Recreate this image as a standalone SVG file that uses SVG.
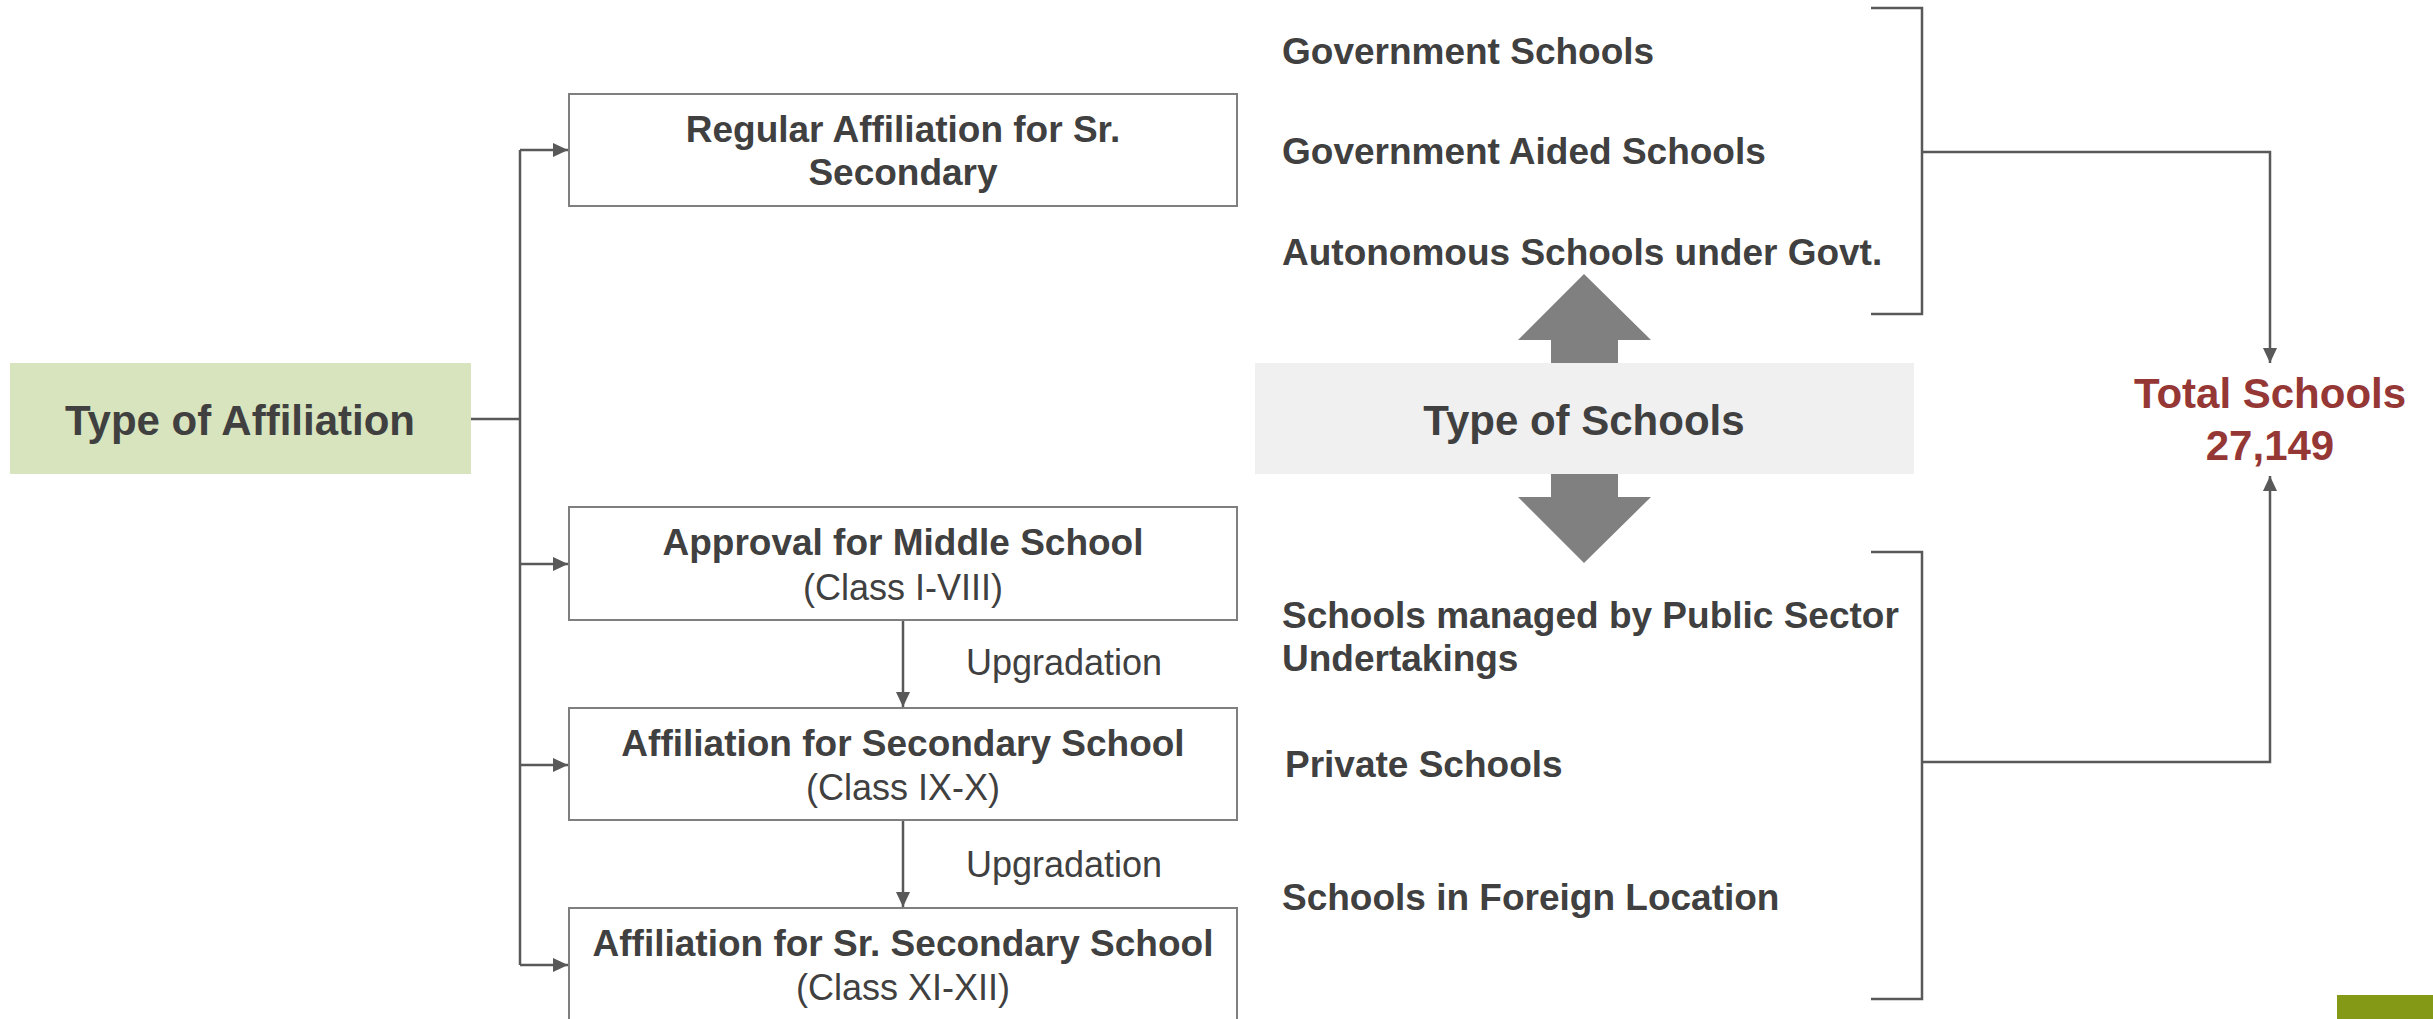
<svg xmlns="http://www.w3.org/2000/svg" width="2433" height="1019" viewBox="0 0 2433 1019">
<style>
.t{font-family:"Liberation Sans",Arial,sans-serif;fill:#404040}
.b{font-weight:bold}
.box{fill:#ffffff;stroke:#7f7f7f;stroke-width:2}
.ln{fill:none;stroke:#595959;stroke-width:2.5}
</style>
<defs>
<marker id="ah" markerUnits="userSpaceOnUse" markerWidth="16" markerHeight="16" viewBox="0 0 16 16" refX="15" refY="8" orient="auto">
<path d="M0,1 L15,8 L0,15 Z" fill="#595959"/>
</marker>
</defs>
<g id="connectors">
<path class="ln" d="M471,419 H520"/>
<path class="ln" d="M520,150 V965"/>
<path class="ln" d="M520,150 H568" marker-end="url(#ah)"/>
<path class="ln" d="M520,564 H568" marker-end="url(#ah)"/>
<path class="ln" d="M520,765 H568" marker-end="url(#ah)"/>
<path class="ln" d="M520,965 H568" marker-end="url(#ah)"/>
<path class="ln" d="M903,620 V707" marker-end="url(#ah)"/>
<path class="ln" d="M903,820 V907" marker-end="url(#ah)"/>
<path class="ln" d="M1871,8 H1922 V314 H1871"/>
<path class="ln" d="M1871,552 H1922 V999 H1871"/>
<path class="ln" d="M1922,152 H2270 V363" marker-end="url(#ah)"/>
<path class="ln" d="M1922,762 H2270 V476" marker-end="url(#ah)"/>
</g>
<g id="type-affiliation">
<rect x="10" y="363" width="461" height="111" fill="#d7e4bd"/>
<text class="t b" x="240" y="435" font-size="42" text-anchor="middle">Type of Affiliation</text>
</g>
<g id="regular-affiliation">
<rect class="box" x="569" y="94" width="668" height="112"/>
<text class="t b" x="903" y="142" font-size="37" text-anchor="middle">Regular Affiliation for Sr.</text>
<text class="t b" x="903" y="185" font-size="37" text-anchor="middle">Secondary</text>
</g>
<g id="middle-school">
<rect class="box" x="569" y="507" width="668" height="113"/>
<text class="t b" x="903" y="555" font-size="37" text-anchor="middle">Approval for Middle School</text>
<text class="t" x="903" y="600" font-size="36" text-anchor="middle">(Class I-VIII)</text>
</g>
<g id="secondary-school">
<rect class="box" x="569" y="708" width="668" height="112"/>
<text class="t b" x="903" y="756" font-size="37" text-anchor="middle">Affiliation for Secondary School</text>
<text class="t" x="903" y="800" font-size="36" text-anchor="middle">(Class IX-X)</text>
</g>
<g id="sr-secondary-school">
<rect class="box" x="569" y="908" width="668" height="130"/>
<text class="t b" x="903" y="956" font-size="37" text-anchor="middle">Affiliation for Sr. Secondary School</text>
<text class="t" x="903" y="1000" font-size="36" text-anchor="middle">(Class XI-XII)</text>
</g>
<g id="upgradation-labels">
<text class="t" x="966" y="675" font-size="36">Upgradation</text>
<text class="t" x="966" y="877" font-size="36">Upgradation</text>
</g>
<g id="type-schools">
<rect x="1255" y="363" width="659" height="111" fill="#f0f0f0"/>
<text class="t b" x="1584" y="435" font-size="42" text-anchor="middle">Type of Schools</text>
<polygon points="1584,274 1651,340 1618,340 1618,363 1551,363 1551,340 1518,340" fill="#808080"/>
<polygon points="1551,474 1618,474 1618,497 1651,497 1584,563 1518,497 1551,497" fill="#808080"/>
</g>
<g id="govt-schools">
<text class="t b" x="1282" y="64" font-size="37">Government Schools</text>
<text class="t b" x="1282" y="164" font-size="37">Government Aided Schools</text>
<text class="t b" x="1282" y="265" font-size="37">Autonomous Schools under Govt.</text>
</g>
<g id="other-schools">
<text class="t b" x="1282" y="628" font-size="37">Schools managed by Public Sector</text>
<text class="t b" x="1282" y="671" font-size="37">Undertakings</text>
<text class="t b" x="1285" y="777" font-size="37">Private Schools</text>
<text class="t b" x="1282" y="910" font-size="37">Schools in Foreign Location</text>
</g>
<g id="total-schools">
<text class="t b" x="2270" y="408" font-size="42" text-anchor="middle" style="fill:#953735">Total Schools</text>
<text class="t b" x="2270" y="460" font-size="42" text-anchor="middle" style="fill:#953735">27,149</text>
</g>
<rect x="2337" y="995" width="96" height="24" fill="#849a17"/>
</svg>
